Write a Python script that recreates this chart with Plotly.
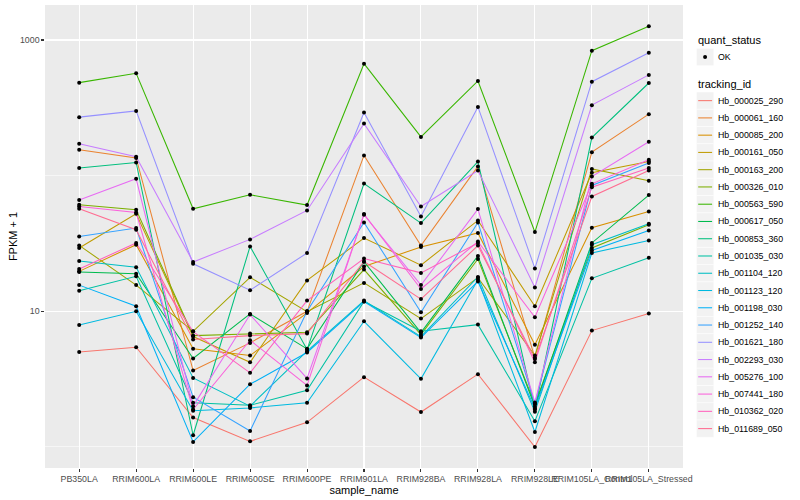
import plotly.graph_objects as go

# ---------------- data (FPKM + 1) ----------------
samples = ["PB350LA", "RRIM600LA", "RRIM600LE", "RRIM600SE", "RRIM600PE",
           "RRIM901LA", "RRIM928BA", "RRIM928LA", "RRIM928LE",
           "RRIM105LA_Control", "RRIM105LA_Stressed"]

tracking_ids = ["Hb_000025_290", "Hb_000061_160", "Hb_000085_200", "Hb_000161_050",
                "Hb_000163_200", "Hb_000326_010", "Hb_000563_590", "Hb_000617_050",
                "Hb_000853_360", "Hb_001035_030", "Hb_001104_120", "Hb_001123_120",
                "Hb_001198_030", "Hb_001252_140", "Hb_001621_180", "Hb_002293_030",
                "Hb_005276_100", "Hb_007441_180", "Hb_010362_020", "Hb_011689_050"]

hb_000025_290 = [5.02, 5.43, 1.65, 1.10, 1.52, 3.27, 1.81, 3.44, 1.00, 7.21, 9.62]
hb_000061_160 = [155, 135, 3.66, 5.85, 10.0, 141, 30.5, 117, 4.54, 149, 284]
hb_000085_200 = [19.7, 31.0, 5.29, 4.72, 9.73, 21.4, 29.8, 37.8, 5.66, 41.3, 54.5]
hb_000161_050 = [29.3, 52.4, 6.51, 4.21, 16.9, 34.7, 21.9, 46.8, 10.9, 105, 127]
hb_000163_200 = [30.6, 15.6, 7.12, 17.8, 9.95, 16.2, 8.84, 17.7, 4.72, 112, 91.6]
hb_000326_010 = [61.0, 56.1, 6.62, 6.85, 7.00, 20.3, 6.73, 24.3, 2.06, 29.3, 43.5]
hb_000563_590 = [485, 569, 57.0, 72.3, 60.7, 669, 193, 499, 38.4, 834, 1261]
hb_000617_050 = [19.5, 18.9, 4.49, 9.57, 5.29, 23.2, 6.97, 25.6, 1.98, 31.9, 71.9]
hb_000853_360 = [114, 125, 1.22, 30.1, 5.22, 87.5, 44.7, 127, 1.89, 191, 482]
hb_001035_030 = [14.2, 18.1, 2.12, 2.03, 2.62, 11.8, 7.12, 7.98, 1.55, 17.5, 24.8]
hb_001104_120 = [23.5, 21.1, 3.23, 2.00, 5.08, 12.0, 6.51, 17.9, 1.82, 31.0, 44.2]
hb_001123_120 = [7.94, 10.0, 1.85, 1.94, 2.12, 8.44, 3.18, 17.1, 1.29, 26.9, 33.3]
hb_001198_030 = [15.6, 10.9, 1.09, 2.90, 4.97, 11.8, 6.40, 16.6, 1.92, 28.1, 39.5]
hb_001252_140 = [35.6, 41.1, 2.33, 1.31, 10.0, 45.2, 9.83, 45.2, 2.09, 84.6, 124]
hb_001621_180 = [270, 300, 22.4, 14.3, 26.9, 292, 50.0, 321, 20.7, 493, 806]
hb_002293_030 = [172, 138, 23.1, 33.9, 55.4, 242, 59.3, 109, 15.0, 331, 553]
hb_005276_100 = [66.1, 94.8, 2.00, 9.46, 3.20, 51.5, 15.6, 56.7, 2.13, 98.6, 178]
hb_007441_180 = [59.3, 53.5, 1.89, 6.12, 2.84, 52.1, 14.6, 32.7, 9.03, 87.1, 131]
hb_010362_020 = [20.5, 31.9, 7.09, 3.52, 12.0, 24.5, 19.2, 31.9, 4.21, 82.3, 114]
hb_011689_050 = [57.0, 39.9, 6.19, 6.62, 6.85, 23.3, 12.3, 30.5, 4.46, 70.2, 109]

series_values = [hb_000025_290, hb_000061_160, hb_000085_200, hb_000161_050,
                 hb_000163_200, hb_000326_010, hb_000563_590, hb_000617_050,
                 hb_000853_360, hb_001035_030, hb_001104_120, hb_001123_120,
                 hb_001198_030, hb_001252_140, hb_001621_180, hb_002293_030,
                 hb_005276_100, hb_007441_180, hb_010362_020, hb_011689_050]

hue_colors = ["#F8766D", "#EA8331", "#D89000", "#C09B00", "#A3A500", "#7CAE00",
              "#39B600", "#00BB4E", "#00BF7D", "#00C1A3", "#00BFC4", "#00BAE0",
              "#00B0F6", "#35A2FF", "#9590FF", "#C77CFF", "#E76BF3", "#FA62DB",
              "#FF62BC", "#FF6C91"]

y_tick_values = [10, 1000]
y_tick_labels = ["10", "1000"]
y_minor_values = [1, 100]

# ---------------- figure ----------------
W, H = 800, 500
L, R, T, B = 45, 116.5, 5, 31.5
FONT = "Liberation Sans, Arial, Helvetica, sans-serif"

fig = go.Figure()

for tid, vals, col in zip(tracking_ids, series_values, hue_colors):
    fig.add_trace(go.Scatter(x=samples, y=vals, mode="lines", name=tid,
                             line=dict(color=col, width=1.05), showlegend=False))

for tid, vals in zip(tracking_ids, series_values):
    fig.add_trace(go.Scatter(x=samples, y=vals, mode="markers", name=tid,
                             marker=dict(color="black", size=4), showlegend=False))

# ---------------- hand-drawn ggplot-like legend ----------------
pw = W - L - R
ph = H - T - B


def px(xp):
    return (xp - L) / pw


def py(yp):
    return (H - B - yp) / ph


shapes = []
annotations = []
key_x0, key_x1 = 697, 714.3
key_h = 17.28
text_x = 717

annotations.append(dict(xref="paper", yref="paper", x=px(697), y=py(40.5),
                        text="quant_status", showarrow=False, xanchor="left",
                        yanchor="middle", font=dict(family=FONT, size=11, color="black")))
shapes.append(dict(type="rect", xref="paper", yref="paper",
                   x0=px(key_x0), x1=px(key_x1), y0=py(48.4), y1=py(48.4 + key_h),
                   fillcolor="#F2F2F2", line=dict(color="white", width=0.5), layer="above"))
shapes.append(dict(type="circle", xref="paper", yref="paper",
                   x0=px(705.6 - 2.0), x1=px(705.6 + 2.0), y0=py(57 - 2.0), y1=py(57 + 2.0),
                   fillcolor="black", line=dict(color="black", width=0), layer="above"))
annotations.append(dict(xref="paper", yref="paper", x=px(text_x), y=py(57),
                        text="OK", showarrow=False, xanchor="left", yanchor="middle",
                        font=dict(family=FONT, size=8.8, color="black")))

annotations.append(dict(xref="paper", yref="paper", x=px(697), y=py(84.3),
                        text="tracking_id", showarrow=False, xanchor="left",
                        yanchor="middle", font=dict(family=FONT, size=11, color="black")))
top0 = 92.1
for i, (tid, col) in enumerate(zip(tracking_ids, hue_colors)):
    y0 = top0 + i * key_h
    yc = y0 + key_h / 2
    shapes.append(dict(type="rect", xref="paper", yref="paper",
                       x0=px(key_x0), x1=px(key_x1), y0=py(y0), y1=py(y0 + key_h),
                       fillcolor="#F2F2F2", line=dict(color="white", width=0.5), layer="above"))
    shapes.append(dict(type="line", xref="paper", yref="paper",
                       x0=px(key_x0 + 1.7), x1=px(key_x1 - 1.7), y0=py(yc), y1=py(yc),
                       line=dict(color=col, width=1.05), layer="above"))
    annotations.append(dict(xref="paper", yref="paper", x=px(text_x), y=py(yc),
                            text=tid, showarrow=False, xanchor="left", yanchor="middle",
                            font=dict(family=FONT, size=8.8, color="black")))

fig.update_layout(
    width=W, height=H,
    margin=dict(l=L, r=R, t=T, b=B, pad=0),
    paper_bgcolor="white",
    plot_bgcolor="#EBEBEB",
    font=dict(family=FONT, size=8.8, color="#4D4D4D"),
    showlegend=False,
    hovermode=False,
    shapes=shapes,
    annotations=annotations,
    xaxis=dict(
        type="category",
        categoryorder="array", categoryarray=samples,
        tickmode="array", tickvals=samples, ticktext=samples,
        range=[-0.6, len(samples) - 0.4],
        tickangle=0,
        showgrid=True, gridcolor="white", gridwidth=1.07,
        zeroline=False, showline=False,
        ticks="outside", ticklen=2.7, tickwidth=1.07, tickcolor="#333333",
        tickfont=dict(family=FONT, size=8.8, color="#4D4D4D"),
        title=dict(text="sample_name", font=dict(family=FONT, size=11, color="black"),
                   standoff=0),
        automargin=False,
        fixedrange=True,
    ),
    yaxis=dict(
        type="log",
        range=[-0.155, 3.258],
        tickmode="array", tickvals=y_tick_values, ticktext=y_tick_labels,
        showgrid=True, gridcolor="white", gridwidth=1.07,
        minor=dict(tickmode="array", tickvals=y_minor_values, showgrid=True,
                   gridcolor="white", gridwidth=0.53, ticks=""),
        zeroline=False, showline=False,
        ticks="outside", ticklen=2.7, tickwidth=1.07, tickcolor="#333333",
        tickfont=dict(family=FONT, size=8.8, color="#4D4D4D"),
        title=dict(text="FPKM + 1", font=dict(family=FONT, size=11, color="black"),
                   standoff=0),
        automargin=False,
        fixedrange=True,
    ),
)

fig.write_html(
    "out.html",
    config={"displayModeBar": False, "staticPlot": True},
    post_script="document.body.style.margin='0';document.body.style.padding='0';"
                "document.documentElement.style.overflow='hidden';",
)
